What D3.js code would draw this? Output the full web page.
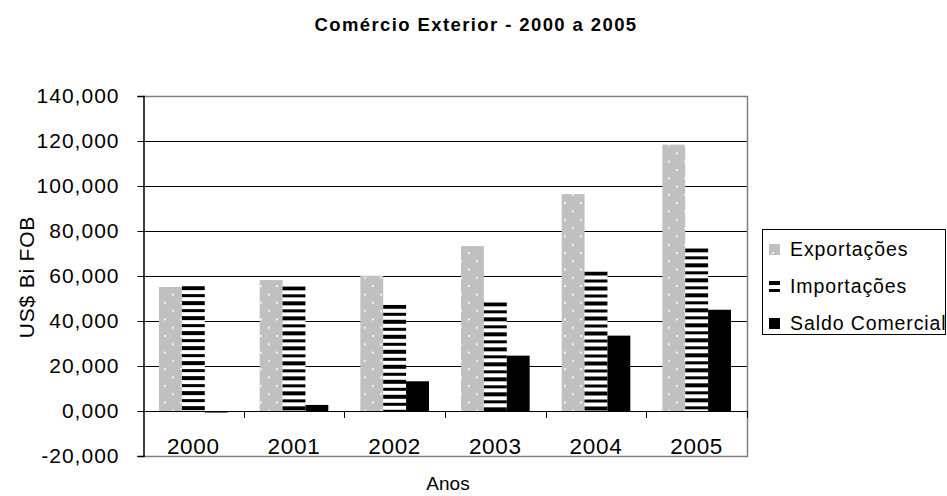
<!DOCTYPE html>
<html>
<head>
<meta charset="utf-8">
<script src="https://cdn.jsdelivr.net/npm/d3@7"></script>
<style>
  html, body { margin: 0; padding: 0; background: #fff; }
  svg { display: block; font-family: "Liberation Sans", Arial, sans-serif; }
</style>
</head>
<body>
<svg id="chart" width="947" height="496"></svg>
<script>
// Comércio exterior brasileiro, US$ bilhões FOB
const anos = ["2000", "2001", "2002", "2003", "2004", "2005"];
const exportacoes = [55.1, 58.2, 60.1, 73.3, 96.4, 118.4];
const importacoes = [55.5, 55.4, 47.2, 48.3, 62.0, 72.3];
const saldoComercial = [-0.7, 2.7, 13.2, 24.6, 33.5, 45.0];
const seriesNomes = ["Exportações", "Importações", "Saldo Comercial"];
const yTicks = [-20, 0, 20, 40, 60, 80, 100, 120, 140];

const series = [exportacoes, importacoes, saldoComercial];

const svg = d3.select("#chart");
const plot = { left: 143, right: 747, top: 96, bottom: 456 };

const locale = d3.formatLocale({ decimal: ",", thousands: ".", grouping: [3], currency: ["US$", ""], minus: "-" });
const fmt = locale.format(".3f");

const y = d3.scaleLinear().domain([-20, 140]).range([plot.bottom, plot.top]);
const x = d3.scaleBand().domain(anos).range([plot.left, plot.right]).paddingInner(0).paddingOuter(0);

const bw = x.bandwidth() / 4.4;
const groupOffset = (x.bandwidth() - 3 * bw) / 2;

const defs = svg.append("defs");

// dotted grey fill for exports
const dots = defs.append("pattern")
  .attr("id", "pontos")
  .attr("patternUnits", "userSpaceOnUse")
  .attr("width", 16).attr("height", 16.6)
  .attr("x", 0).attr("y", 3);
dots.append("rect").attr("width", 16).attr("height", 16.6).attr("fill", "#c0c0c0");
dots.append("rect").attr("x", 4).attr("y", 0).attr("width", 2).attr("height", 2).attr("fill", "#f2f2f2");
dots.append("rect").attr("x", 12).attr("y", 8.3).attr("width", 2).attr("height", 2).attr("fill", "#f2f2f2");

// horizontal stripes for imports, one tile origin per bar so each starts with a black band
function stripePattern(id, y0) {
  const p = defs.append("pattern")
    .attr("id", id)
    .attr("patternUnits", "userSpaceOnUse")
    .attr("width", 10).attr("height", 15)
    .attr("x", 0).attr("y", y0);
  p.append("rect").attr("width", 10).attr("height", 15).attr("fill", "#fff");
  p.append("rect").attr("y", 0).attr("width", 10).attr("height", 4).attr("fill", "#000");
  p.append("rect").attr("y", 8).attr("width", 10).attr("height", 3).attr("fill", "#000");
  return "url(#" + id + ")";
}

// horizontal gridlines
svg.append("g")
  .selectAll("line")
  .data(yTicks.filter(t => t !== -20 && t !== 0 && t !== 140))
  .join("line")
  .attr("x1", plot.left).attr("x2", plot.right)
  .attr("y1", d => Math.round(y(d)) + 0.5).attr("y2", d => Math.round(y(d)) + 0.5)
  .attr("stroke", "#000").attr("stroke-width", 1);

// plot frame (top, right, bottom)
svg.append("path")
  .attr("d", `M${plot.left},${plot.top + 0.5}H${plot.right + 0.5}V${plot.bottom + 0.5}H${plot.left}`)
  .attr("fill", "none").attr("stroke", "#808080").attr("stroke-width", 1.5);

// bars
const fills = [
  () => "url(#pontos)",
  (i, top) => stripePattern("listras" + i, top),
  () => "#000"
];
series.forEach((vals, s) => {
  svg.append("g")
    .selectAll("rect")
    .data(vals)
    .join("rect")
    .attr("x", (d, i) => x(anos[i]) + groupOffset + s * bw)
    .attr("width", bw)
    .attr("y", d => y(Math.max(0, d)))
    .attr("height", d => Math.abs(y(d) - y(0)))
    .attr("fill", (d, i) => fills[s](i, y(Math.max(0, d))));
});

// value axis
const yAxis = svg.append("g")
  .attr("transform", `translate(${plot.left + 0.5},0)`)
  .call(d3.axisLeft(y).tickValues(yTicks).tickFormat(fmt).tickSize(6).tickPadding(18));
yAxis.select(".domain").attr("stroke", "#000").attr("stroke-width", 1.5);
yAxis.selectAll(".tick line").attr("stroke", "#000");
yAxis.selectAll("text")
  .attr("font-size", 21).attr("letter-spacing", 1).attr("fill", "#000")
  .attr("font-family", "'Liberation Sans', Arial, sans-serif");

// category axis on the zero line
svg.append("line")
  .attr("x1", plot.left).attr("x2", plot.right)
  .attr("y1", Math.round(y(0)) + 0.5).attr("y2", Math.round(y(0)) + 0.5)
  .attr("stroke", "#000").attr("stroke-width", 1.2);
svg.append("g")
  .selectAll("line")
  .data(anos.slice(1).concat(["fim"]))
  .join("line")
  .attr("x1", (d, i) => Math.round(plot.left + (i + 1) * x.bandwidth()) + 0.5)
  .attr("x2", (d, i) => Math.round(plot.left + (i + 1) * x.bandwidth()) + 0.5)
  .attr("y1", y(0)).attr("y2", y(0) + 7)
  .attr("stroke", "#000");
svg.append("g")
  .selectAll("text")
  .data(anos)
  .join("text")
  .attr("x", d => x(d) + x.bandwidth() / 2)
  .attr("y", 454)
  .attr("text-anchor", "middle")
  .attr("font-size", 22.5).attr("letter-spacing", 0.7)
  .text(d => d);

// titles
svg.append("text")
  .attr("x", 476).attr("y", 31)
  .attr("text-anchor", "middle")
  .attr("font-size", 18.5).attr("font-weight", "bold").attr("letter-spacing", 1.4)
  .text("Comércio Exterior - 2000 a 2005");
svg.append("text")
  .attr("x", 448).attr("y", 490)
  .attr("text-anchor", "middle")
  .attr("font-size", 19)
  .text("Anos");
svg.append("text")
  .attr("transform", "translate(34,277) rotate(-90)")
  .attr("text-anchor", "middle")
  .attr("font-size", 21).attr("letter-spacing", 0.8)
  .text("US$ Bi FOB");

// legend
const leg = svg.append("g");
leg.append("rect")
  .attr("x", 762.5).attr("y", 229.5).attr("width", 183).attr("height", 105)
  .attr("fill", "#fff").attr("stroke", "#000").attr("stroke-width", 1);
const legY = [249, 286, 323];
const legFills = [() => "url(#pontos)", () => stripePattern("listrasLegenda", legY[1] - 5), () => "#000"];
seriesNomes.forEach((nome, i) => {
  leg.append("rect")
    .attr("x", 769).attr("y", legY[i] - 5).attr("width", 11).attr("height", 11)
    .attr("fill", legFills[i]());
  leg.append("text")
    .attr("x", 790).attr("y", legY[i] + 7)
    .attr("font-size", 19.5).attr("letter-spacing", 0.9)
    .text(nome);
});
</script>
</body>
</html>
